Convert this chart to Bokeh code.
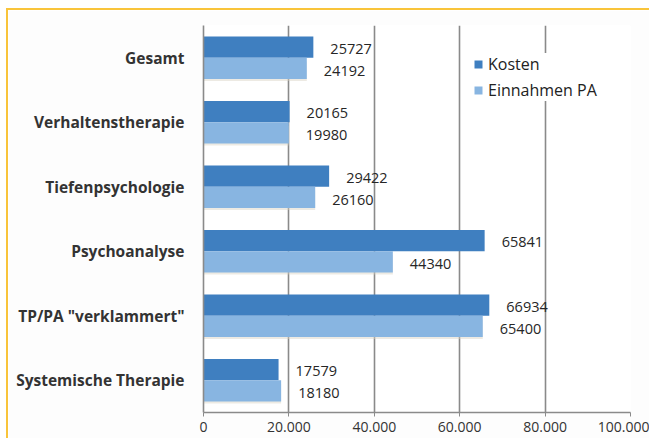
from bokeh.plotting import figure
from bokeh.models import (ColumnDataSource, FactorRange, FixedTicker, CustomJSTickFormatter,
                          Legend, LegendItem, Range1d)
from bokeh.transform import dodge
from bokeh.core.properties import value
from bokeh.embed import file_html
from bokeh.resources import INLINE

categories = ["Gesamt", "Verhaltenstherapie", "Tiefenpsychologie", "Psychoanalyse",
              "TP/PA \"verklammert\"", "Systemische Therapie"]
kosten = [25727, 20165, 29422, 65841, 66934, 17579]
einnahmen = [24192, 19980, 26160, 44340, 65400, 18180]
x_ticks = [0, 20000, 40000, 60000, 80000, 100000]

FONT = "Open Sans"
DARK = "#3f7fc0"
LIGHT = "#88b5e1"

src = ColumnDataSource(dict(
    cat=categories, kosten=kosten, einnahmen=einnahmen,
    kosten_txt=[str(v) for v in kosten], einnahmen_txt=[str(v) for v in einnahmen],
))

p = figure(width=643, height=430, output_backend="svg", toolbar_location=None,
           y_range=FactorRange(factors=categories[::-1], range_padding=0),
           x_range=Range1d(0, 100000),
           min_border_left=195, min_border_right=21, min_border_top=15, min_border_bottom=28)

p.styles = {"margin-left": "6px", "margin-top": "8px",
            "border-top": "2px solid #f9c43a", "border-left": "2px solid #f9c43a"}
p.background_fill_color = "#ffffff"
p.border_fill_color = "#fdfdfd"
p.outline_line_color = None

# soft shadow under the light bars
p.hbar(y=dodge("cat", -0.21, range=p.y_range), left=0, right="einnahmen", height=0.3,
       source=src, fill_color="#d8d0c2", fill_alpha=0.45, line_color=None)

rk = p.hbar(y=dodge("cat", 0.165, range=p.y_range), left=0, right="kosten", height=0.33,
            source=src, fill_color=DARK, line_color=None)
re = p.hbar(y=dodge("cat", -0.165, range=p.y_range), left=0, right="einnahmen", height=0.33,
            source=src, fill_color=LIGHT, line_color=None)

p.text(x="kosten", y=dodge("cat", 0.14, range=p.y_range), text="kosten_txt", source=src,
       x_offset=17, text_baseline="middle", text_align="left",
       text_font=value(FONT), text_font_size="14.5px", text_color="#262626")
p.text(x="einnahmen", y=dodge("cat", -0.2, range=p.y_range), text="einnahmen_txt", source=src,
       x_offset=17, text_baseline="middle", text_align="left",
       text_font=value(FONT), text_font_size="14.5px", text_color="#262626")

# grid
p.ygrid.grid_line_color = None
p.xgrid.ticker = FixedTicker(ticks=x_ticks)
p.xgrid.grid_line_color = "#8a8a8a"
p.xgrid.grid_line_width = 1.6

# x axis
p.xaxis.ticker = FixedTicker(ticks=x_ticks)
p.xaxis.formatter = CustomJSTickFormatter(
    code="return Math.round(tick).toString().replace(/\\B(?=(\\d{3})+(?!\\d))/g, '.');")
p.xaxis.axis_line_color = "#8a8a8a"
p.xaxis.axis_line_width = 1.6
p.xaxis.major_tick_line_color = "#8a8a8a"
p.xaxis.major_tick_out = 4
p.xaxis.major_tick_in = 0
p.xaxis.minor_tick_line_color = None
p.xaxis.major_label_standoff = 5
p.xaxis.major_label_text_font = FONT
p.xaxis.major_label_text_font_size = "14px"
p.xaxis.major_label_text_color = "#333333"

# y axis
p.yaxis.axis_line_color = "#8a8a8a"
p.yaxis.axis_line_width = 1.6
p.yaxis.major_tick_line_color = None
p.yaxis.major_tick_out = 0
p.yaxis.major_label_standoff = 19
p.yaxis.major_label_text_font = FONT
p.yaxis.major_label_text_font_size = "15.5px"
p.yaxis.major_label_text_font_style = "bold"
p.yaxis.major_label_text_color = "#333333"

legend = Legend(items=[LegendItem(label="Kosten", renderers=[rk]),
                       LegendItem(label="Einnahmen PA", renderers=[re])],
                location=(270, 311), orientation="vertical",
                background_fill_color="#ffffff", background_fill_alpha=1.0,
                border_line_color=None, padding=8, spacing=4, margin=0,
                glyph_width=10, glyph_height=10, label_standoff=5,
                label_text_font=FONT, label_text_font_size="16px",
                label_text_color="#222222", label_height=20)
p.add_layout(legend, "center")

open("out.html", "w").write(file_html(p, INLINE))
